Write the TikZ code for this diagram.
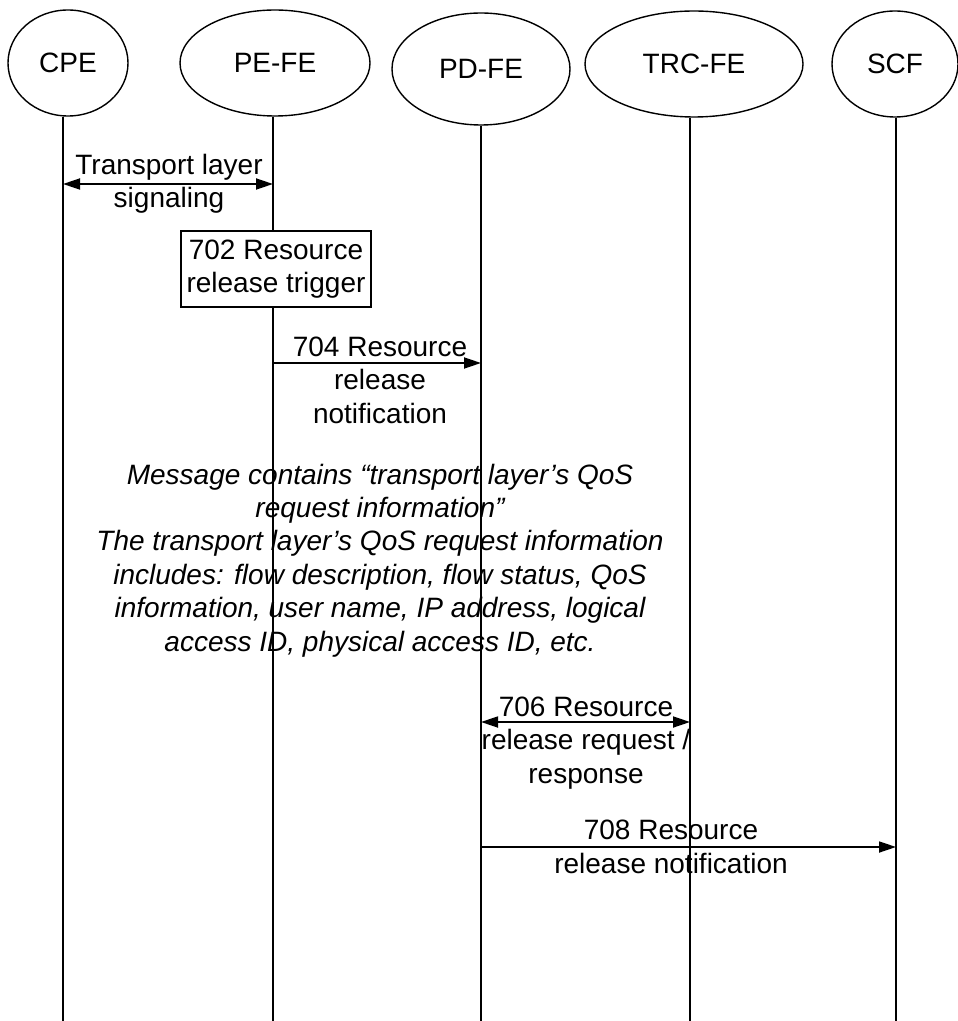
\documentclass[tikz,border=0pt]{standalone}
\usepackage{fontspec}
\setmainfont{Liberation Sans}
\usetikzlibrary{shapes.geometric,arrows.meta}

\begin{document}
\begin{tikzpicture}[x=0.5pt,y=-0.5pt,
  every node/.style={font=\fontsize{14pt}{16.7pt}\selectfont},
  entity/.style={draw,ellipse,line width=0.7pt,inner sep=0pt,minimum height=53pt},
  lifeline/.style={line width=0.75pt},
  tip/.tip={Triangle[length=8.5pt,width=5.5pt]},
  msg/.style={line width=0.9pt,-tip},
  dmsg/.style={line width=0.9pt,tip-tip},
  msglabel/.style={align=center,anchor=base,inner sep=0pt},
  notesty/.style={msglabel,font=\fontsize{14pt}{16.7pt}\selectfont\itshape}]
  \useasboundingbox (0,0) rectangle (957,1021);

  % functional entities
  \node[entity,minimum width=60pt] (cpe) at (68,63) {CPE};
  \node[entity,minimum width=95pt] (pefe) at (275,63) {PE-FE};
  \node[entity,minimum width=89pt,minimum height=56pt] (pdfe) at (481,69) {PD-FE};
  \node[entity,minimum width=109pt] (trcfe) at (694,64) {TRC-FE};
  \node[entity,minimum width=63pt] (scf) at (895,64) {SCF};

  % lifelines
  \foreach \n/\x in {cpe/63,pefe/273,pdfe/481,trcfe/690,scf/896} {
    \coordinate (\n-top) at (\x,0 |- \n.south);
    \coordinate (\n-bot) at (\x,1021);
    \draw[lifeline] (\n-top) -- (\n-bot);
  }

  % message levels (labels sit on the baseline of their last line)
  \coordinate (m1) at (0,184);
  \coordinate (m2) at (0,363);
  \coordinate (m3) at (0,722);
  \coordinate (m4) at (0,847);

  \draw[dmsg] (cpe-top |- m1) -- (pefe-top |- m1);
  \node[msglabel] (sig) at (169,208) {Transport layer\\signaling};

  \node[draw,fill=white,line width=0.75pt,align=center,inner sep=0pt,
    minimum width=95pt,minimum height=38pt] (trig) at (276,269)
    {702 Resource\\release trigger};

  \draw[msg] (pefe-top |- m2) -- (pdfe-top |- m2);
  \node[msglabel] (notif) at (380,423) {704 Resource\\release\\notification};

  \node[notesty] (note) at (380,651) {Message contains “transport layer’s QoS\\
    request information”\\
    The transport layer’s QoS request information\\
    includes: flow description, flow status, QoS\\
    information, user name, IP address, logical\\
    access ID, physical access ID, etc.};

  \draw[dmsg] (pdfe-top |- m3) -- (trcfe-top |- m3);
  \node[msglabel] (req) at (586,783) {706 Resource\\release request /\\response};

  \draw[msg] (pdfe-top |- m4) -- (scf-top |- m4);
  \node[msglabel] (scfnotif) at (671,873) {708 Resource\\release notification};
\end{tikzpicture}
\end{document}
